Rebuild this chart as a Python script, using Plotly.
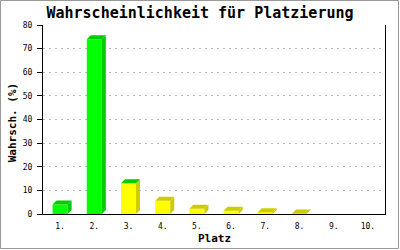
import plotly.graph_objects as go

# ---- data ----
places = [1, 2, 3, 4, 5, 6, 7, 8, 9, 10]
tick_labels = ["1.", "2.", "3.", "4.", "5.", "6.", "7.", "8.", "9.", "10."]
probability = [4.0, 74.0, 13.0, 5.6, 2.2, 1.4, 0.7, 0.25, 0.0, 0.0]
front_colors = ["#00FF00", "#00FF00", "#FFFF00", "#FFFF00", "#FFFF00",
                "#FFFF00", "#FFFF00", "#FFFF00", "#FFFF00", "#FFFF00"]
side_colors = ["#00CC00", "#00CC00", "#CCCC00", "#CCCC00", "#CCCC00",
               "#CCCC00", "#CCCC00", "#CCCC00", "#CCCC00", "#CCCC00"]
top_colors = ["#00CC00", "#00CC00", "#00CC00", "#CCCC00", "#CCCC00",
              "#CCCC00", "#CCCC00", "#CCCC00", "#CCCC00", "#CCCC00"]

# ---- geometry ----
W, H = 400, 250
L, R, T, B = 43, 15, 25, 36
plot_w = W - L - R
plot_h = H - T - B
x_range = [0.5, 10.5]
y_range = [0, 80]
bar_w = 0.44
dx = 4 * (x_range[1] - x_range[0]) / plot_w   # depth in data units
dy = 4 * (y_range[1] - y_range[0]) / plot_h
FONT = "DejaVu Sans Mono"

fig = go.Figure()

# depth faces (side + top)
for x, v, sc, tc in zip(places, probability, side_colors, top_colors):
    if v <= 0:
        continue
    xl, xr = x - bar_w / 2, x + bar_w / 2
    fig.add_trace(go.Scatter(
        x=[xr, xr + dx, xr + dx, xr, xr], y=[0, dy, v + dy, v, 0],
        mode="lines", fill="toself", fillcolor=sc, line=dict(width=0),
        hoverinfo="skip", showlegend=False))
    fig.add_trace(go.Scatter(
        x=[xl, xl + dx, xr + dx, xr, xl], y=[v, v + dy, v + dy, v, v],
        mode="lines", fill="toself", fillcolor=tc, line=dict(width=0),
        hoverinfo="skip", showlegend=False))

# front faces
fig.add_trace(go.Bar(
    x=places, y=probability, width=bar_w,
    marker=dict(color=front_colors, line=dict(width=0)),
    showlegend=False))

fig.update_layout(
    width=W, height=H,
    margin=dict(l=L, r=R, t=T, b=B, pad=0),
    paper_bgcolor="white", plot_bgcolor="white",
    font=dict(family=FONT, color="black", size=8),
    title=dict(text="<b>Wahrscheinlichkeit für Platzierung</b>",
               x=0.5, xanchor="center", y=1 - 13 / H, yanchor="middle",
               yref="container", font=dict(family=FONT, size=15, color="black")),
    xaxis=dict(range=x_range, tickmode="array", tickvals=places,
               ticktext=tick_labels, ticks="", showgrid=False,
               showline=True, linecolor="black", linewidth=1,
               zeroline=False, ticklabelstandoff=4,
               tickfont=dict(family=FONT, size=8, color="black")),
    yaxis=dict(range=y_range, tickmode="array",
               tickvals=[0, 10, 20, 30, 40, 50, 60, 70, 80],
               ticks="outside", ticklen=5, tickcolor="black", tickwidth=1,
               showline=True, linecolor="black", linewidth=1, mirror=True,
               showgrid=True, gridcolor="#BBBBBB", griddash="2px,4px",
               gridwidth=1, zeroline=False, ticklabelstandoff=3,
               tickfont=dict(family=FONT, size=8, color="black")),
    annotations=[
        dict(text="<b>Platz</b>", xref="paper", yref="paper",
             x=0.5, y=-(238 - (T + plot_h)) / plot_h,
             xanchor="center", yanchor="middle", showarrow=False,
             font=dict(family=FONT, size=11, color="black")),
        dict(text="<b>Wahrsch. (%)</b>", xref="paper", yref="paper",
             x=(12 - L) / plot_w, y=0.48, textangle=-90,
             xanchor="center", yanchor="middle", showarrow=False,
             font=dict(family=FONT, size=11, color="black")),
    ],
    shapes=[
        dict(type="rect", xref="paper", yref="paper",
             x0=(0.5 - L) / plot_w, x1=(398.5 - L) / plot_w,
             y0=((T + plot_h) - 248.5) / plot_h, y1=((T + plot_h) - 0.5) / plot_h,
             line=dict(color="#999999", width=1), fillcolor="rgba(0,0,0,0)",
             layer="above"),
    ],
)

fig.write_html("out.html")
